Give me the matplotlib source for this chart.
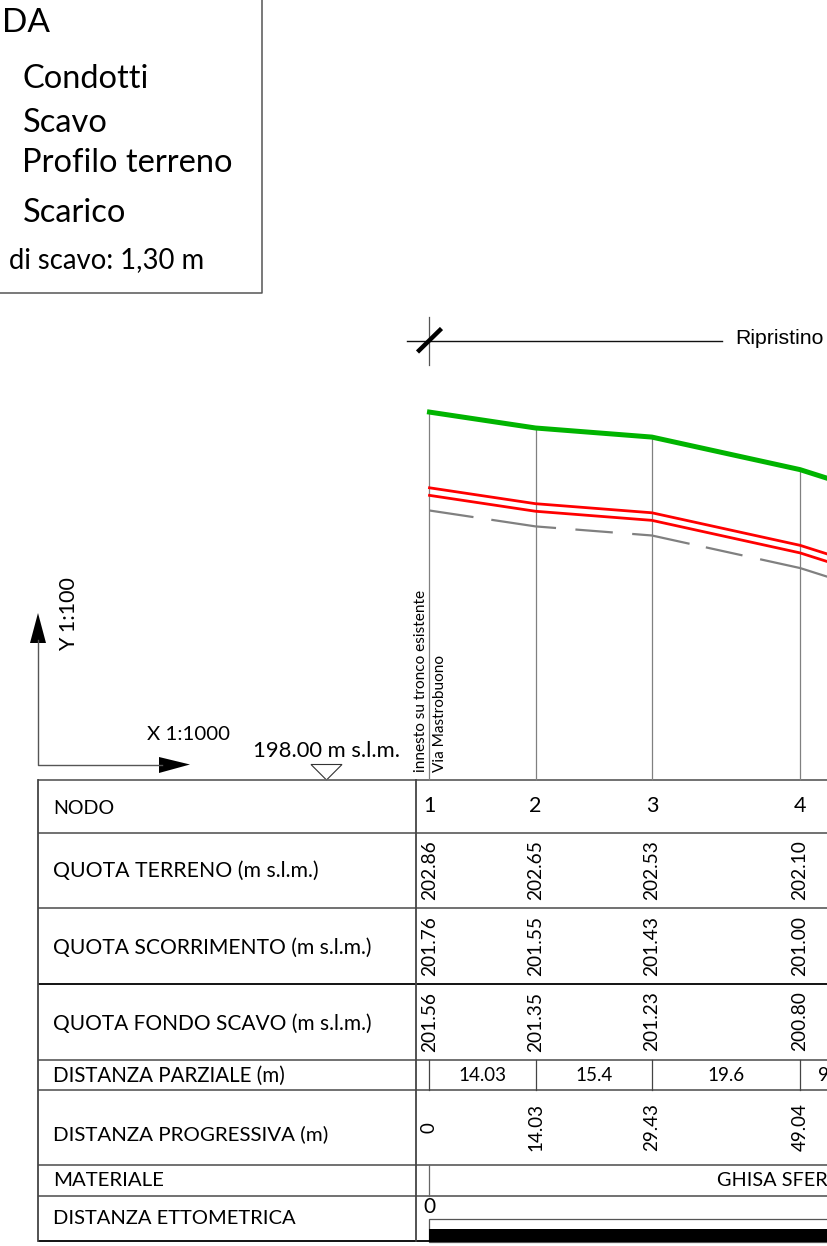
"""Longitudinal sewer profile with data table, cropped as in the source drawing."""

import matplotlib

matplotlib.use("Agg")

import matplotlib.pyplot as plt
from matplotlib.patches import Polygon, Rectangle

plt.rcParams["lines.scale_dashes"] = False

W, H = 828, 1246
FONT = "Lato"

# node data; the fifth node sits past the crop, its values are estimated from the slopes
nodes = ["1", "2", "3", "4"]
progressive = [0, 14.03, 29.43, 49.04, 58.5]
ground = [202.86, 202.65, 202.53, 202.10, 201.80]
flow = [201.76, 201.55, 201.43, 201.00, 200.70]
trench = [201.56, 201.35, 201.23, 200.80, 200.50]
pipe_top = [201.86, 201.65, 201.53, 201.10, 200.80]
partial = ["14.03", "15.4", "19.6"]
partial_cut = "9"
progressive_labels = ["0", "14.03", "29.43", "49.04"]

row_labels = [
    "NODO",
    "QUOTA TERRENO (m s.l.m.)",
    "QUOTA SCORRIMENTO (m s.l.m.)",
    "QUOTA FONDO SCAVO (m s.l.m.)",
    "DISTANZA PARZIALE (m)",
    "DISTANZA PROGRESSIVA (m)",
    "MATERIALE",
    "DISTANZA ETTOMETRICA",
]
legend_names = ["Condotti", "Scavo", "Profilo terreno", "Scarico"]

# layout in sheet pixels
row_edges = [780, 833, 908, 984, 1060, 1090, 1165, 1196, 1241]
row_text_y = [808, 871, 948, 1024, 1076, 1134, 1181, 1219]
row_text_size = [14.1, 15.3, 15.2, 15.0, 14.8, 14.75, 14.7, 14.5]
legend_y = [79, 123, 163, 213]

# drawing scales: pixels per metre along the pipe and per metre of elevation
X0, PX_M = 429.5, 7.556
Y0, PX_Z = 780, 75.7
DATUM = 198.0

fig = plt.figure(figsize=(W / 100, H / 100), dpi=100, facecolor="white")

# sheet axes in pixels for frames and labels
ax = fig.add_axes([0, 0, 1, 1])
ax.set_xlim(0, W)
ax.set_ylim(H, 0)
ax.axis("off")

# profile axes in metres, same area as the sheet
prof = fig.add_axes([0, 0, 1, 1], facecolor="none")
prof.set_xlim(-X0 / PX_M, (W - X0) / PX_M)
prof.set_ylim(DATUM - (H - Y0) / PX_Z, DATUM + Y0 / PX_Z)
prof.axis("off")


def px(dist):
    return X0 + dist * PX_M


def label(x, y, s, size=15, ha="left", va="center", rot=0, family=FONT, color="black"):
    ax.text(x, y, s, fontsize=size, ha=ha, va=va, rotation=rot, family=family, color=color,
            rotation_mode="anchor")


# node verticals go from the ground line down to the table
for d, z in zip(progressive[:4], ground[:4]):
    prof.plot([d, d], [DATUM, z], color="#808080", lw=0.9, solid_capstyle="butt", zorder=1)

# the source dashes restart at each vertex, so the pattern is uneven
trench_dashes = (0, (32, 13, 47, 14, 27, 14, 42, 12, 27, 13, 50, 8))
prof.plot(progressive, trench, color="#808080", lw=1.6, linestyle=trench_dashes,
          dash_capstyle="butt", zorder=2)
prof.plot(progressive, flow, color="#ff0000", lw=2.0, zorder=3)
prof.plot(progressive, pipe_top, color="#ff0000", lw=2.0, zorder=3)
prof.plot(progressive, ground, color="#00b400", lw=3.6, solid_joinstyle="miter", zorder=4)

# legend box, cut by the left edge
ax.plot([262, 262, 0], [0, 292.5, 292.5], color="#555555", lw=1.1)
label(2, 23, "DA", size=24)
for name, y in zip(legend_names, legend_y):
    label(22.5, y, name, size=23.5)
label(9, 260, "di scavo: 1,30 m", size=19.8)

# section mark
ax.plot([407, 722], [340.5, 340.5], color="#111111", lw=1.0)
ax.plot([429.5, 429.5], [317, 365], color="#555555", lw=0.9)
ax.plot([417.5, 441.5], [352, 328.5], color="black", lw=3.2, solid_capstyle="butt")
label(735, 338, "Ripristino", size=15.3, family="Liberation Sans")

# scale arrows
ax.plot([38, 38, 162], [640, 764.5, 764.5], color="#555555", lw=1.0)
ax.add_patch(Polygon([[30, 643], [46, 643], [38, 613]], closed=True, color="black", lw=0))
ax.add_patch(Polygon([[159, 757], [159, 773], [190, 764.5]], closed=True, color="black", lw=0))
label(69, 651, "Y 1:100", size=15.5, rot=90)
label(147, 735, "X 1:1000", size=14.7)
label(253, 751, "198.00 m s.l.m.", size=15.8)
ax.add_patch(Polygon([[311, 764.5], [342, 764.5], [326.5, 780]], closed=True, fc="white",
                     ec="#333333", lw=0.8))
label(421, 772, "innesto su tronco esistente", size=11.1, rot=90)
label(440, 772, "Via Mastrobuono", size=11.1, rot=90)

# table frame
for i, y in enumerate(row_edges):
    color = "black" if i in (3, 8) else "#666666"
    ax.plot([38, W], [y, y], color=color, lw=1.3, solid_capstyle="butt")
ax.plot([38, 38], [780, 1241], color="#444444", lw=1.3)
ax.plot([416, 416], [780, 1241], color="#444444", lw=1.3)

for s, y, size in zip(row_labels, row_text_y, row_text_size):
    label(53, y, s, size=size)

# table values
for n, d in zip(nodes, progressive):
    label(px(d), 806, n, size=15.5, ha="center")
for values, mid in ((ground, 870.5), (flow, 946), (trench, 1021.5)):
    for d, v in zip(progressive[:4], values[:4]):
        label(px(d), mid, f"{v:.2f}", size=13.8, ha="center", rot=90)

for a, b, s in zip(progressive[:-1], progressive[1:], partial):
    ax.plot([px(a), px(a)], [1060, 1090], color="#444444", lw=0.9)
    label((px(a) + px(b)) / 2 if b < 49 else 726, 1075.5, s, size=13.5, ha="center")
ax.plot([px(progressive[3])] * 2, [1060, 1090], color="#444444", lw=0.9)
label(818, 1075.5, partial_cut, size=13.5)

for d, s in zip(progressive[:4], progressive_labels):
    label(px(d), 1128 if d == 0 else 1127, s, size=13.5, ha="center", rot=90)

ax.plot([429.5, 429.5], [1165, 1196], color="#666666", lw=0.9)
label(717, 1181, "GHISA SFER", size=14.3)

label(429.5, 1207, "0", size=15, ha="center")
ax.add_patch(Rectangle((429.5, 1218.5), W - 429.5, 23, fc="white", ec="#555555", lw=0.9))
ax.add_patch(Rectangle((429.5, 1229), W - 429.5, 13, fc="black", lw=0))

fig.savefig("out.png", dpi=100)
plt.close(fig)
